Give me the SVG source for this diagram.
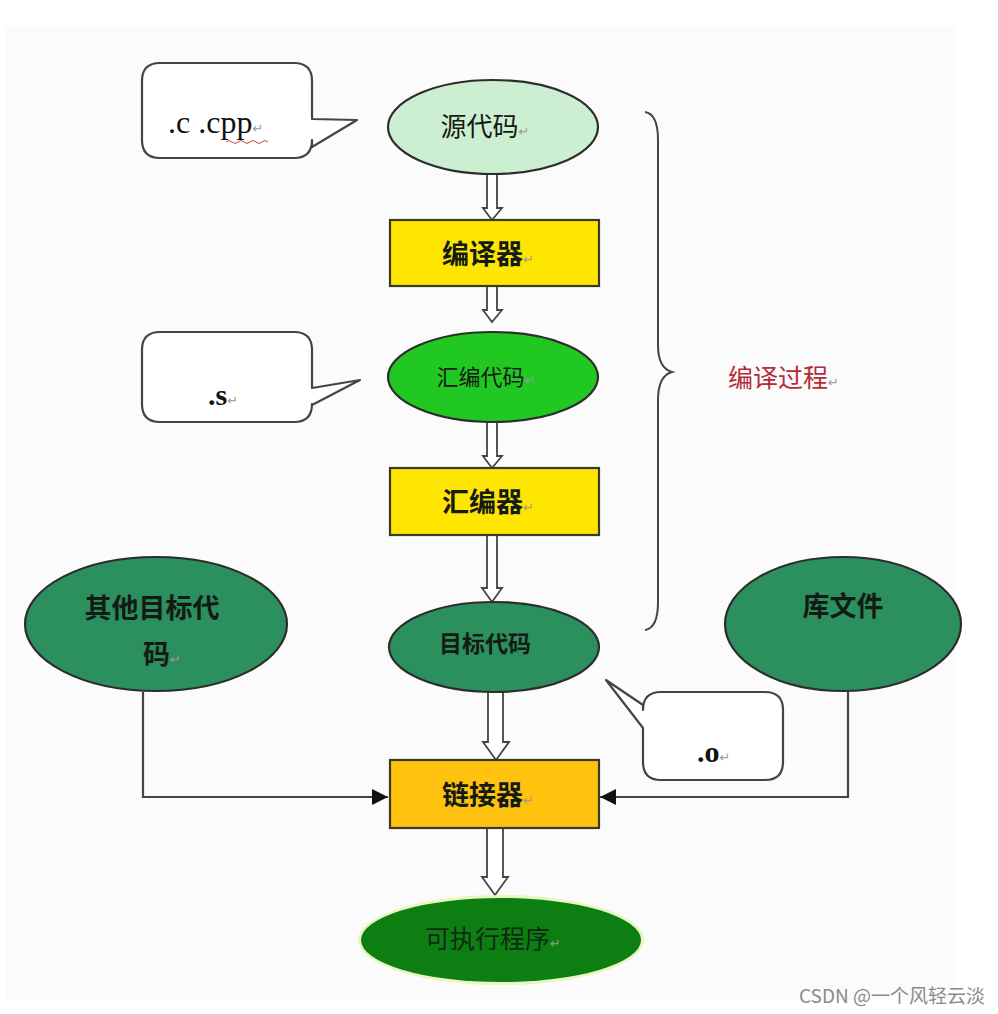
<svg xmlns="http://www.w3.org/2000/svg" width="998" height="1014" viewBox="0 0 998 1014">
<style>
.cjk{font-family:"Noto Sans CJK SC","Noto Sans",sans-serif;fill:#141a14}
.node{stroke:#2d2d2d;stroke-width:2.2}
.box{stroke:#3a3a2a;stroke-width:2.2}
.call{fill:#ffffff;stroke:#444;stroke-width:2.2;stroke-linejoin:round}
.ser{font-family:"Liberation Serif",serif;fill:#111}
.pm{font-family:"DejaVu Sans",sans-serif;font-size:13px;fill:#999;font-weight:normal}
.hollow{fill:#ffffff;stroke:#444;stroke-width:1.8;stroke-linejoin:miter}
.line{fill:none;stroke:#444;stroke-width:2.2}
</style>
<defs>
<marker id="ah2" viewBox="0 0 10 10" refX="10" refY="5" markerWidth="16" markerHeight="16" markerUnits="userSpaceOnUse" orient="auto">
<path d="M0,0 L10,5 L0,10 z" fill="#111"/>
</marker>
</defs>
<rect width="998" height="1014" fill="#ffffff"/>
<rect x="6" y="26" width="950" height="974" fill="#fafbfa"/>

<g id="connectors">
<path class="hollow" d="M487,174 V208 H483 L492,220 L502,208 H497 V174"/>
<path class="hollow" d="M487,286 V310 H483 L492,322 L502,310 H497 V286"/>
<path class="hollow" d="M487,422 V456 H483 L492,468 L502,456 H497 V422"/>
<path class="hollow" d="M487,534 V588 H482 L492,602 L502,588 H497 V534"/>
<path class="hollow" d="M488,692 V742 H483 L496,760 L509,742 H503 V692"/>
<path class="hollow" d="M487,828 V877 H482 L495,895 L508,877 H503 V828"/>
<path class="line" d="M143,692 V797 H388" marker-end="url(#ah2)"/>
<path class="line" d="M848,692 V797 H600" marker-end="url(#ah2)"/>
</g>

<g id="brace">
<path d="M645,112 Q658,114 658,140 V345 Q658,368 672,372 Q658,376 658,400 V602 Q658,628 645,630" fill="none" stroke="#444" stroke-width="2"/>
<text x="728" y="387" font-family="Noto Sans CJK SC,sans-serif" font-size="25" fill="#b52a35">编译过程<tspan class="pm">↵</tspan></text>
</g>

<g id="callout-c">
<path class="call" d="M160,63 H294 Q312,63 312,81 V119 L357,120 L312,147 V140 Q312,158 294,158 H160 Q142,158 142,140 V81 Q142,63 160,63 Z"/>
<text x="168" y="133" class="ser" font-size="32">.c .cpp<tspan class="pm">↵</tspan></text>
<path d="M226,142 q3,-3 6,0 t6,0 t6,0 t6,0 t6,0 t6,0 t6,0" fill="none" stroke="#c04040" stroke-width="1"/>
</g>

<g id="src">
<ellipse class="node" cx="493" cy="127" rx="105" ry="47" fill="#ccefd2"/>
<text x="485" y="136" class="cjk" font-size="26" text-anchor="middle">源代码<tspan class="pm">↵</tspan></text>
</g>

<g id="compiler">
<rect class="box" x="390" y="220" width="209" height="66" fill="#ffe600"/>
<text x="488" y="264" class="cjk" font-size="27" text-anchor="middle" font-weight="bold">编译器<tspan class="pm">↵</tspan></text>
</g>

<g id="callout-s">
<path class="call" d="M160,332 H294 Q312,332 312,350 V388 L360,380 L312,405 V404 Q312,422 294,422 H160 Q142,422 142,404 V350 Q142,332 160,332 Z"/>
<text x="208" y="405" class="ser" font-size="30" font-weight="bold">.s<tspan class="pm">↵</tspan></text>
</g>

<g id="asm-code">
<ellipse class="node" cx="493" cy="377" rx="105" ry="45" fill="#22c822"/>
<text x="486" y="385" class="cjk" font-size="22" text-anchor="middle">汇编代码<tspan class="pm">↵</tspan></text>
</g>

<g id="assembler">
<rect class="box" x="390" y="468" width="209" height="67" fill="#ffe600"/>
<text x="488" y="512" class="cjk" font-size="27" text-anchor="middle" font-weight="bold">汇编器<tspan class="pm">↵</tspan></text>
</g>

<g id="other-obj">
<ellipse class="node" cx="156" cy="624" rx="131" ry="67" fill="#2b8f5e"/>
<text x="152" y="618" class="cjk" font-size="27" text-anchor="middle" font-weight="bold">其他目标代</text>
<text x="162" y="664" class="cjk" font-size="27" text-anchor="middle" font-weight="bold">码<tspan class="pm">↵</tspan></text>
</g>

<g id="obj">
<ellipse class="node" cx="494" cy="647" rx="105" ry="45" fill="#2b8f5e"/>
<text x="485" y="652" class="cjk" font-size="23" text-anchor="middle" font-weight="bold">目标代码</text>
</g>

<g id="lib">
<ellipse class="node" cx="843" cy="624" rx="118" ry="67" fill="#2b8f5e"/>
<text x="843" y="616" class="cjk" font-size="27" text-anchor="middle" font-weight="bold">库文件</text>
</g>

<g id="callout-o">
<path class="call" d="M661,692 H765 Q783,692 783,710 V762 Q783,780 765,780 H661 Q643,780 643,762 V728 L606,680 L643,705 V710 Q643,692 661,692 Z"/>
<text x="697" y="762" class="ser" font-size="30" font-weight="bold">.o<tspan class="pm">↵</tspan></text>
</g>

<g id="linker">
<rect class="box" x="390" y="760" width="209" height="68" fill="#ffc20e"/>
<text x="488" y="805" class="cjk" font-size="27" text-anchor="middle" font-weight="bold">链接器<tspan class="pm">↵</tspan></text>
</g>

<g id="exe">
<ellipse cx="501" cy="940" rx="143" ry="45" fill="#e4f5b0" opacity="0.8"/>
<ellipse cx="501" cy="940" rx="140" ry="42" fill="#0d7f12"/>
<text x="493" y="948" class="cjk" font-size="25" text-anchor="middle" style="fill:#0f2a12">可执行程序<tspan class="pm">↵</tspan></text>
</g>

<text x="985" y="1003" text-anchor="end" font-family="Noto Sans CJK SC,sans-serif" font-size="19" fill="#8a8a8a">CSDN @一个风轻云淡</text>
</svg>
